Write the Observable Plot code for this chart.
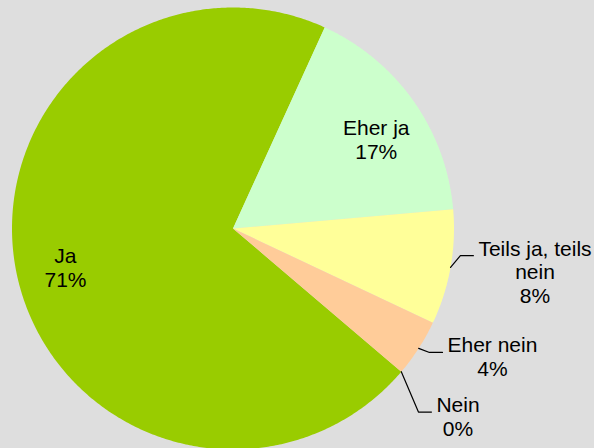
<!DOCTYPE html>
<html><head><meta charset="utf-8">
<script src="https://cdn.jsdelivr.net/npm/d3@7"></script>
<script src="https://cdn.jsdelivr.net/npm/@observablehq/plot@0.6"></script>
<style>html,body{margin:0;padding:0;background:#dedede;overflow:hidden;}</style>
</head><body><div id="chart"></div>
<script>
// ---- data ----
const categories = ["Ja", "Eher ja", "Teils ja, teils\nnein", "Eher nein", "Nein"];
const counts = [84, 20, 10, 5, 0];
const colors = ["#99cc00", "#ccffcc", "#ffff99", "#ffcc99", "#ff9900"];

// ---- layout ----
const W = 594, H = 448, CX = 232.5, CY = 228, R = 221;
const START_DEG = 130.4;
const FONT = 21, LINE = 23.7;
const FONT_FAMILY = "'Liberation Sans', Arial, sans-serif";
// label placement relative to slice mid-angle: angle shift (deg), radius factor
const labelShift = [0.9, 2.1, -5, -7.3, -1.2];
const labelRadius = [0.774, 0.774, 1.372, 1.301, 1.314];
const labelOutside = [false, false, true, true, true];

const rad = d => d * Math.PI / 180;
const total = d3.sum(counts);
const fmt = d3.format(".0%");
const arcs = d3.pie().value(d => d).sort(null)
  .startAngle(rad(START_DEG)).endAngle(rad(START_DEG + 360))(counts);

// slice polygons
const slicePts = [];
arcs.forEach((a, i) => {
  if (a.endAngle - a.startAngle <= 0) return;
  const k = categories[i];
  slicePts.push({x: 0, y: 0, k});
  const n = Math.max(2, Math.ceil((a.endAngle - a.startAngle) / rad(0.5)));
  for (let j = 0; j <= n; j++) {
    const t = a.startAngle + (a.endAngle - a.startAngle) * j / n;
    slicePts.push({x: Math.sin(t), y: Math.cos(t), k});
  }
  slicePts.push({x: 0, y: 0, k});
});

// text measuring
const ctx = document.createElement("canvas").getContext("2d");
ctx.font = `${FONT}px ${FONT_FAMILY}`;

const textRows = [];
const leaders = [];
arcs.forEach((a, i) => {
  const mid = (a.startAngle + a.endAngle) / 2;
  const la = mid + rad(labelShift[i]);
  const lx = Math.sin(la) * labelRadius[i];
  const ly = Math.cos(la) * labelRadius[i];
  const lines = (categories[i] + "\n" + fmt(counts[i] / total)).split("\n");
  lines.forEach((t, j) => textRows.push({x: lx, y: ly - j * LINE / R, t}));
  if (labelOutside[i]) {
    const w = ctx.measureText(lines[0]).width;
    const ex = lx - (w / 2 + 5) / R;
    const k = categories[i];
    leaders.push({x: Math.sin(mid), y: Math.cos(mid), k});
    leaders.push({x: ex - 13 / R, y: ly, k});
    leaders.push({x: ex, y: ly, k});
  }
});

const chart = Plot.plot({
  width: W, height: H, margin: 0,
  x: {domain: [-1, 1], range: [CX - R, CX + R], axis: null},
  y: {domain: [-1, 1], range: [CY + R, CY - R], axis: null},
  color: {domain: categories, range: colors},
  style: {background: "#dedede", fontFamily: FONT_FAMILY, overflow: "visible"},
  marks: [
    Plot.line(slicePts, {x: "x", y: "y", z: "k", fill: "k", stroke: "none"}),
    Plot.line(leaders, {x: "x", y: "y", z: "k", stroke: "black", strokeWidth: 1.2}),
    Plot.text(textRows, {x: "x", y: "y", text: "t", textAnchor: "middle", lineAnchor: "bottom",
      fontSize: FONT, fill: "black"})
  ]
});
document.getElementById("chart").appendChild(chart);
</script>
</body></html>
